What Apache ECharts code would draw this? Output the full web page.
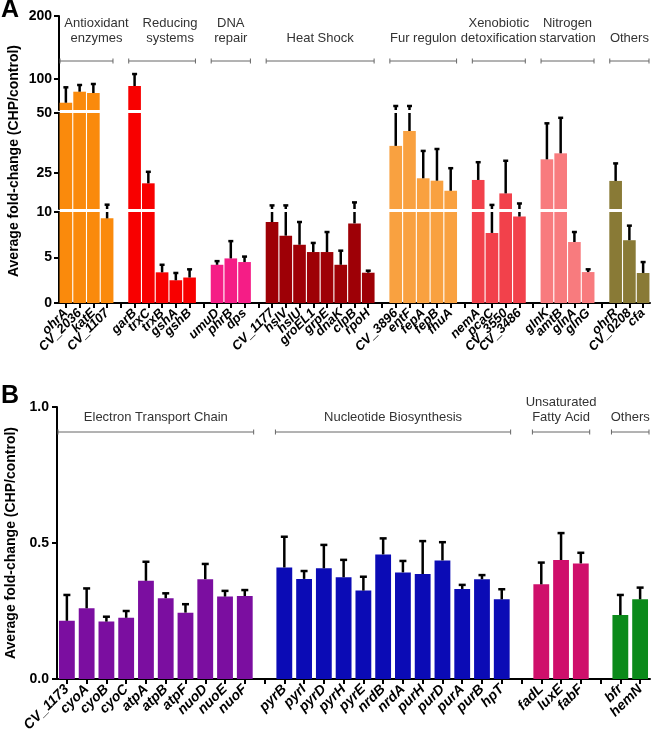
<!DOCTYPE html>
<html>
<head>
<meta charset="utf-8">
<script src="https://cdn.jsdelivr.net/npm/echarts@6/dist/echarts.min.js"></script>
<style>
  html, body { margin: 0; padding: 0; background: #fff; }
  #chart { width: 653px; height: 735px; }
</style>
</head>
<body>
<div id="chart"></div>
<script>
// ---- panel A data (fold-change, broken axis) ----
const groupsA = ['Antioxidant\nenzymes', 'Reducing\nsystems', 'DNA\nrepair', 'Heat Shock',
  'Fur regulon', 'Xenobiotic\ndetoxification', 'Nitrogen\nstarvation', 'Others'];
const genesA = [
  ['ohrA', 'CV_2036', 'katE', 'CV_1107'],
  ['garB', 'trxC', 'trxB', 'gshA', 'gshB'],
  ['umuD', 'phrB', 'dps'],
  ['CV_1177', 'hslV', 'hslU', 'groEL1', 'grpE', 'dnaK', 'clpB', 'rpoH'],
  ['CV_3896', 'entF', 'fepA', 'fepB', 'fhuA'],
  ['nemA', 'pcaC', 'CV_3550', 'CV_3486'],
  ['glnK', 'amtB', 'glnA', 'glnG'],
  ['ohrR', 'CV_0208', 'cfa']
];
const meanA = [
  [61.6, 79.2, 77.1, 9.3],
  [88.3, 20.7, 3.37, 2.5, 2.8],
  [4.2, 4.9, 4.5],
  [8.9, 7.4, 6.4, 5.6, 5.6, 4.2, 8.75, 3.33],
  [36.3, 42.5, 22.8, 21.8, 17.6],
  [22.1, 7.7, 16.5, 9.5],
  [30.7, 33.2, 6.7, 3.4],
  [21.7, 6.9, 3.3]
];
const sdA = [
  [24.6, 10.7, 14.4, 2.5],
  [19.1, 4.8, 0.83, 0.8, 0.9],
  [0.4, 1.9, 0.6],
  [2.6, 4.1, 2.5, 1.0, 2.2, 1.55, 4.0, 0.22],
  [20.1, 13.9, 11.4, 13.2, 9.4],
  [7.4, 4.0, 13.6, 2.8],
  [15, 14.8, 1.1, 0.3],
  [7.3, 1.6, 1.2]
];
const ticksA = [[100, 200], [25, 50], [0, 5, 10]];
const segmentsA = [[50, 200], [10, 50], [0, 10]];

// ---- panel B data ----
const groupsB = ['Electron Transport Chain', 'Nucleotide Biosynthesis', 'Unsaturated\nFatty Acid', 'Others'];
const genesB = [
  ['CV_1173', 'cyoA', 'cyoB', 'cyoC', 'atpA', 'atpB', 'atpF', 'nuoD', 'nuoE', 'nuoF'],
  ['pyrB', 'pyrI', 'pyrD', 'pyrH', 'pyrE', 'nrdB', 'nrdA', 'purH', 'purD', 'purA', 'purB', 'hpT'],
  ['fadL', 'luxE', 'fabF'],
  ['bfr', 'hemN']
];
const meanB = [
  [0.214, 0.26, 0.211, 0.225, 0.361, 0.297, 0.244, 0.367, 0.303, 0.305],
  [0.41, 0.368, 0.407, 0.374, 0.325, 0.458, 0.392, 0.386, 0.436, 0.331, 0.367, 0.293],
  [0.348, 0.4375, 0.425],
  [0.235, 0.293]
];
const sdB = [
  [0.095, 0.073, 0.018, 0.025, 0.07, 0.018, 0.031, 0.056, 0.021, 0.022],
  [0.113, 0.029, 0.086, 0.064, 0.051, 0.059, 0.042, 0.121, 0.067, 0.015, 0.015, 0.037],
  [0.08, 0.099, 0.039],
  [0.074, 0.043]
];
const ticksB = [0, 0.5, 1.0];

// colours per group
const colorsA = ['#FA8A0C', '#F80000', '#F51D86', '#9E0006', '#F9A140', '#F2414B', '#F87B7E', '#897A36'];
const colorsB = ['#7B0EA0', '#0B0BB5', '#CF0F6B', '#0B8A1A'];
const headerShiftA = [10, 8, 0, 0, 0, 0, 0, 0];

const FONT = '"Liberation Sans", Arial, sans-serif';

// lay groups out on one category axis, with an empty slot between groups
function buildPanel(groups, genes, means, sds, colors) {
  const cats = [], bars = [], errs = [], spans = [];
  genes.forEach((list, g) => {
    if (g > 0) {
      cats.push(' '.repeat(g));
      bars.push('-');
    }
    const start = cats.length;
    list.forEach((name, i) => {
      const idx = cats.length;
      cats.push(name);
      bars.push({ value: means[g][i], itemStyle: { color: colors[g] } });
      errs.push([idx, means[g][i], means[g][i] + sds[g][i]]);
    });
    spans.push([start, cats.length - 1, g]);
  });
  return { cats, bars, errs, spans };
}

const pA = buildPanel(groupsA, genesA, meanA, sdA, colorsA);
const pB = buildPanel(groupsB, genesB, meanB, sdB, colorsB);

function errorBars(capW) {
  return function (params, api) {
    const x = api.value(0);
    const lo = api.coord([x, api.value(1)]);
    const hi = api.coord([x, api.value(2)]);
    const st = { stroke: '#000', lineWidth: 2.5 };
    return {
      type: 'group',
      children: [
        { type: 'line', shape: { x1: lo[0], y1: lo[1], x2: hi[0], y2: hi[1] }, style: st },
        { type: 'line', shape: { x1: hi[0] - capW / 2, y1: hi[1], x2: hi[0] + capW / 2, y2: hi[1] }, style: st }
      ]
    };
  };
}

function headers(names, topValue, bracketDy, textDy, shift) {
  return function (params, api) {
    const a = api.coord([api.value(0), topValue]);
    const b = api.coord([api.value(1), topValue]);
    const g = api.value(2);
    const half = api.size([1, 0])[0] / 2;
    const x0 = a[0] - half + 1, x1 = b[0] + half - 1;
    const y = a[1] + bracketDy;
    const st = { stroke: '#666', lineWidth: 1 };
    return {
      type: 'group',
      children: [
        { type: 'line', shape: { x1: x0, y1: y, x2: x1, y2: y }, style: st },
        { type: 'line', shape: { x1: x0, y1: y - 2.5, x2: x0, y2: y + 2.5 }, style: st },
        { type: 'line', shape: { x1: x1, y1: y - 2.5, x2: x1, y2: y + 2.5 }, style: st },
        {
          type: 'text',
          style: {
            text: names[g], x: (x0 + x1) / 2 + (shift ? shift[g] : 0), y: a[1] + textDy,
            align: 'center', verticalAlign: 'bottom', fill: '#333',
            font: '13px ' + FONT, lineHeight: 15
          }
        }
      ]
    };
  };
}

const axisLineStyle = { show: true, lineStyle: { color: '#000', width: 2 } };
const yLabel = { color: '#000', fontWeight: 'bold', fontSize: 14, fontFamily: FONT };

// panel A: three stacked grids for the broken axis (top: 50-200, mid: 10-50, bottom: 0-10)
const gridsA = [
  { left: 59, right: 3, top: 16, height: 94 },
  { left: 59, right: 3, top: 113, height: 96 },
  { left: 59, right: 3, top: 212, height: 91 }
];
const gridB = { left: 57, right: 3, top: 407, height: 272 };

const grids = gridsA.concat([gridB]).map(g => Object.assign({ outerBoundsMode: 'none' }, g));

const xAxes = [];
const yAxes = [];
const series = [];

gridsA.forEach((g, k) => {
  const isBottom = k === 2;
  xAxes.push({
    type: 'category', gridIndex: k, data: pA.cats,
    show: isBottom,
    axisLine: axisLineStyle,
    axisTick: { show: true, alignWithLabel: true, interval: 0, length: 5, lineStyle: { color: '#000', width: 2 } },
    axisLabel: {
      interval: 0, rotate: 45, margin: 8, color: '#000',
      fontWeight: 'bold', fontStyle: 'italic', fontSize: 13, fontFamily: FONT
    }
  });
  const y = {
    type: 'value', gridIndex: k,
    min: segmentsA[k][0], max: segmentsA[k][1],
    axisLine: axisLineStyle,
    axisTick: { show: true, length: 5, lineStyle: { color: '#000', width: 2 }, customValues: ticksA[k] },
    axisLabel: Object.assign({ customValues: ticksA[k], margin: 7 }, yLabel),
    splitLine: { show: false }
  };
  if (k === 2) y.interval = 5;
  if (k === 1) {
    y.name = 'Average fold-change (CHP/control)';
    y.nameLocation = 'middle';
    y.nameRotate = 90;
    y.nameGap = 38;
    y.nameTextStyle = { color: '#000', fontWeight: 'bold', fontSize: 14, fontFamily: FONT };
  }
  yAxes.push(y);
  series.push({
    type: 'bar', xAxisIndex: k, yAxisIndex: k, data: pA.bars,
    barCategoryGap: '8%', clip: true, animation: false
  });
  series.push({
    type: 'custom', xAxisIndex: k, yAxisIndex: k, data: pA.errs,
    encode: { x: 0, y: [1, 2] }, renderItem: errorBars(5), clip: true, z: 5, animation: false
  });
});

series.push({
  type: 'custom', xAxisIndex: 0, yAxisIndex: 0, data: pA.spans,
  encode: { x: [0, 1] }, renderItem: headers(groupsA, 200, 45, 29.5, headerShiftA),
  silent: true, animation: false
});

// panel B
xAxes.push({
  type: 'category', gridIndex: 3, data: pB.cats,
  axisLine: axisLineStyle,
  axisTick: { show: true, alignWithLabel: true, interval: 0, length: 5, lineStyle: { color: '#000', width: 2 } },
  axisLabel: {
    interval: 0, rotate: 45, margin: 8, color: '#000',
    fontWeight: 'bold', fontStyle: 'italic', fontSize: 14, fontFamily: FONT
  }
});
yAxes.push({
  type: 'value', gridIndex: 3, min: 0, max: 1, interval: 0.5,
  axisLine: axisLineStyle,
  axisTick: { show: true, length: 5, lineStyle: { color: '#000', width: 2 } },
  axisLabel: Object.assign({ formatter: v => v.toFixed(1), margin: 8 }, yLabel),
  splitLine: { show: false },
  name: 'Average fold-change (CHP/control)',
  nameLocation: 'middle', nameRotate: 90, nameGap: 36,
  nameTextStyle: { color: '#000', fontWeight: 'bold', fontSize: 14, fontFamily: FONT }
});
series.push({
  type: 'bar', xAxisIndex: 3, yAxisIndex: 3, data: pB.bars,
  barCategoryGap: '20%', animation: false
});
series.push({
  type: 'custom', xAxisIndex: 3, yAxisIndex: 3, data: pB.errs,
  encode: { x: 0, y: [1, 2] }, renderItem: errorBars(7), clip: true, z: 5, animation: false
});
series.push({
  type: 'custom', xAxisIndex: 3, yAxisIndex: 3, data: pB.spans,
  encode: { x: [0, 1] }, renderItem: headers(groupsB, ticksB[2], 25, 18, null),
  silent: true, animation: false
});

const chart = echarts.init(document.getElementById('chart'), null, { renderer: 'canvas' });
chart.setOption({
  backgroundColor: '#fff',
  animation: false,
  grid: grids,
  xAxis: xAxes,
  yAxis: yAxes,
  series: series,
  graphic: [
    { type: 'text', left: 1, top: -2, style: { text: 'A', font: 'bold 25px ' + FONT, fill: '#000' } },
    { type: 'text', left: 1, top: 384, style: { text: 'B', font: 'bold 25px ' + FONT, fill: '#000' } }
  ]
});
</script>
</body>
</html>
